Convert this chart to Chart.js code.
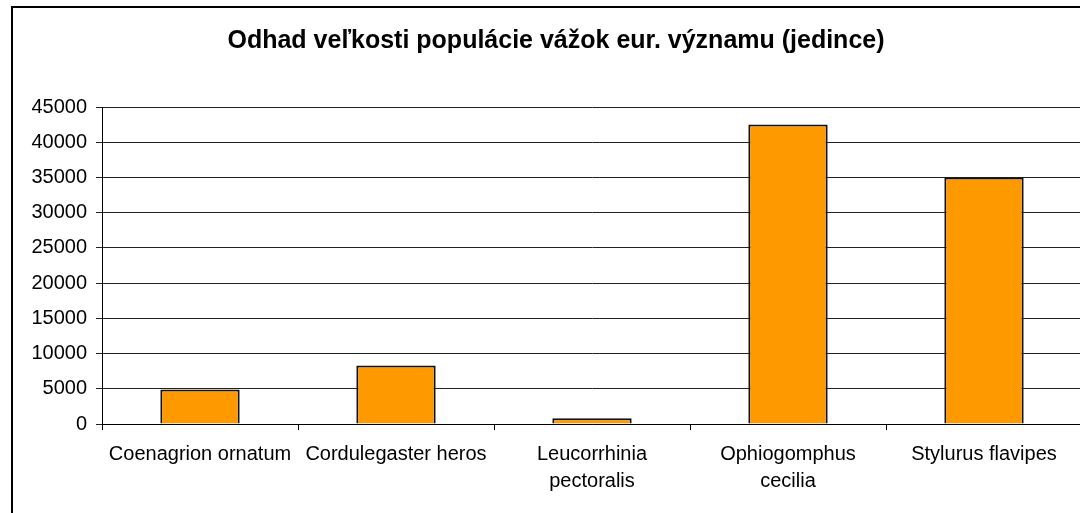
<!DOCTYPE html>
<html>
<head>
<meta charset="utf-8">
<script src="https://cdn.jsdelivr.net/npm/chart.js@4"></script>
<style>
  html, body { margin: 0; padding: 0; background: #fff; overflow: hidden; }
  #wrap { position: absolute; left: 0; top: 0; width: 1140px; height: 513px; }
  #frame { position: absolute; left: 11px; top: 6px; width: 1200px; height: 600px; border: 2px solid #000; box-sizing: border-box; pointer-events: none; }
</style>
</head>
<body>
<div id="frame"></div>
<div id="wrap"><canvas id="chart"></canvas></div>
<script>
const categories = [
  'Coenagrion ornatum',
  'Cordulegaster heros',
  ['Leucorrhinia', 'pectoralis'],
  ['Ophiogomphus', 'cecilia'],
  'Stylurus flavipes'
];
const populationValues = [4900, 8300, 800, 42500, 35000];
const titleText = 'Odhad veľkosti populácie vážok eur. významu (jedince)';

const font = 'Arial, "Liberation Sans", sans-serif';

new Chart(document.getElementById('chart'), {
  type: 'bar',
  data: {
    labels: categories,
    datasets: [{
      data: populationValues,
      backgroundColor: '#FF9900',
      borderColor: '#111',
      borderWidth: 2,
      categoryPercentage: 1,
      barPercentage: 0.405
    }]
  },
  options: {
    responsive: true,
    maintainAspectRatio: false,
    animation: false,
    layout: { padding: { left: 30, right: 58, top: 0, bottom: 0 } },
    plugins: {
      legend: { display: false },
      tooltip: { enabled: false },
      title: {
        display: true,
        text: titleText,
        color: '#000',
        font: { family: font, size: 25, weight: 'bold', lineHeight: 1.2 },
        padding: { top: 26, bottom: 51 }
      }
    },
    scales: {
      x: {
        grid: { display: true, offset: true, drawOnChartArea: false, drawTicks: true, tickLength: 6, color: '#000' },
        border: { color: '#000', width: 1 },
        ticks: { color: '#000', font: { family: font, size: 20, lineHeight: 1.35 }, padding: 11, maxRotation: 0, autoSkip: false },
        afterFit: s => { s.height = 89; }
      },
      y: {
        min: 0,
        max: 45000,
        grid: { color: '#222', lineWidth: 1, drawTicks: true, tickLength: 6 },
        border: { color: '#000', width: 1 },
        ticks: {
          stepSize: 5000,
          color: '#000',
          font: { family: font, size: 20 },
          padding: 9,
          callback: v => String(v)
        },
        afterFit: s => { s.width = 72; }
      }
    }
  }
});
</script>
</body>
</html>
